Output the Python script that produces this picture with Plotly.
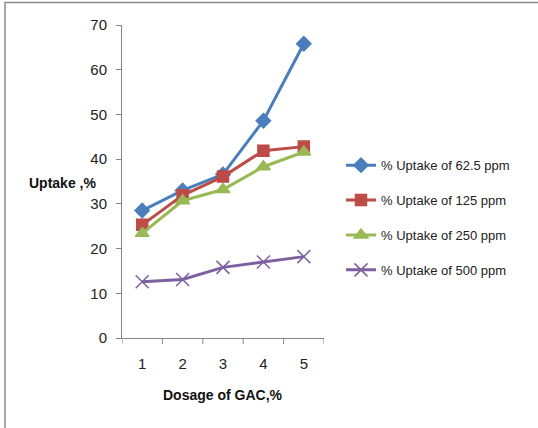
import plotly.graph_objects as go

dosage = [1, 2, 3, 4, 5]
uptake_62_5 = [28.5, 33.0, 36.6, 48.6, 65.8]
uptake_125 = [25.3, 31.9, 36.1, 41.9, 42.8]
uptake_250 = [23.4, 30.7, 33.2, 38.3, 41.6]
uptake_500 = [12.6, 13.1, 15.8, 17.0, 18.2]
names = ["% Uptake of 62.5 ppm", "% Uptake of 125 ppm", "% Uptake of 250 ppm", "% Uptake of 500 ppm"]
y_ticks = [0, 10, 20, 30, 40, 50, 60, 70]

FONT = "Liberation Sans, Arial, sans-serif"

series = [
    (uptake_62_5, "#4A7EBB", "diamond", 11),
    (uptake_125, "#BE4B48", "square", 11),
    (uptake_250, "#98B954", "triangle-up", 12),
    (uptake_500, "#7D60A0", "x-thin", 13),
]

fig = go.Figure()
for i, (vals, col, sym, sz) in enumerate(series):
    fig.add_trace(go.Scatter(
        x=dosage, y=vals, name=names[i], mode="lines+markers",
        line=dict(color=col, width=3),
        marker=dict(symbol=sym, size=sz, color=col, line=dict(color=col, width=1.5)),
        legendgroup=str(i),
    ))

fig.update_layout(
    width=538, height=428,
    margin=dict(l=122, r=214, t=25, b=90),
    paper_bgcolor="white", plot_bgcolor="white",
    font=dict(family=FONT, size=13, color="#222"),
    showlegend=True,
    legend=dict(x=(341 - 122) / 202, y=0.6, xanchor="left", yanchor="top",
                font=dict(family=FONT, size=13, color="#222"),
                tracegroupgap=15, itemwidth=30, bgcolor="rgba(0,0,0,0)"),
    xaxis=dict(range=[0.5, 5.5], tickvals=dosage, showgrid=False, zeroline=False,
               showline=True, linecolor="#868686", linewidth=1,
               ticks="", ticklabelstandoff=12,
               tickfont=dict(size=15, family=FONT, color="#222")),
    yaxis=dict(range=[0, 70], tickvals=y_ticks, showgrid=False, zeroline=False,
               showline=True, linecolor="#868686", linewidth=1,
               ticks="outside", ticklen=5, tickcolor="#868686", ticklabelstandoff=6,
               tickfont=dict(size=15, family=FONT, color="#222")),
    annotations=[
        dict(text="<b>Uptake ,%</b>", xref="paper", yref="paper",
             x=(27 - 122) / 202, y=(338 - 183) / 313, xanchor="left", yanchor="middle",
             showarrow=False, font=dict(size=14, family=FONT, color="#111")),
        dict(text="<b>Dosage of GAC,%</b>", xref="paper", yref="paper",
             x=0.5, y=(338 - 395) / 313, xanchor="center", yanchor="middle",
             showarrow=False, font=dict(size=14, family=FONT, color="#111")),
    ],
    shapes=[
        dict(type="rect", xref="paper", yref="paper",
             x0=(5 - 122) / 202, x1=(545 - 122) / 202,
             y0=(338 - 440) / 313, y1=(338 - 2.5) / 313,
             line=dict(color="#8c8c8c", width=1.5), layer="below"),
    ],
)
# category separator ticks on x axis
for xv in [0.5, 1.5, 2.5, 3.5, 4.5, 5.5]:
    fig.add_shape(type="line", xref="x", yref="paper", x0=xv, x1=xv,
                  y0=0, y1=-6 / 313, line=dict(color="#868686", width=1))

fig.write_html("out.html")
